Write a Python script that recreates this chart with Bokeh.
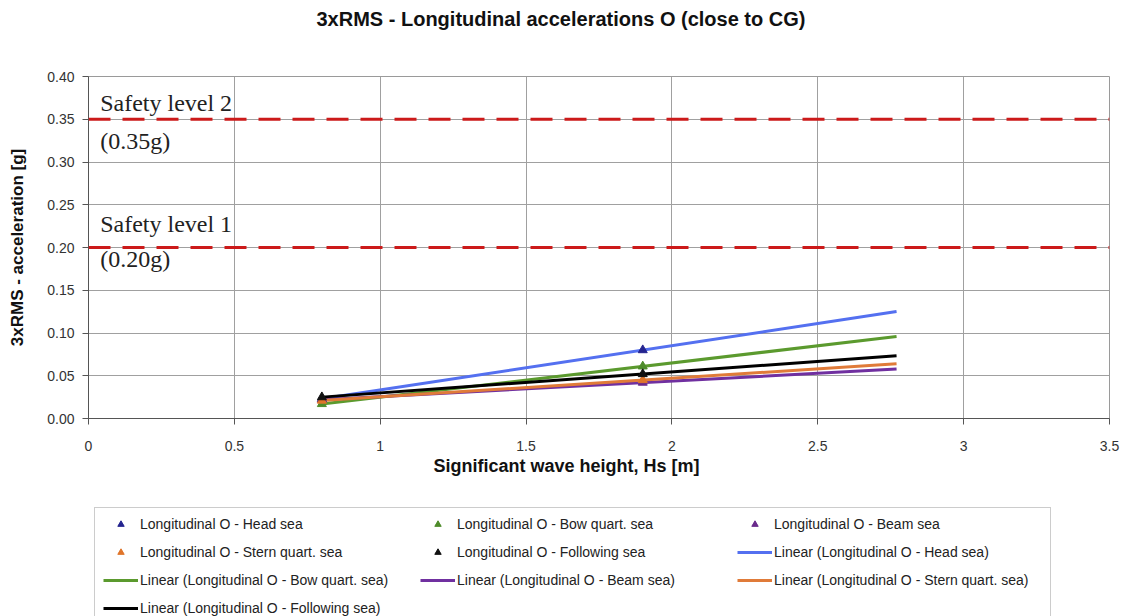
import numpy as np
from bokeh.plotting import figure
from bokeh.layouts import column
from bokeh.models import Range1d, Span, Label, Legend, LegendItem, FixedTicker, Title
from bokeh.embed import file_html
from bokeh.resources import INLINE

# ---- data ----
hs = [0.8, 1.9]
head_sea = [0.023, 0.080]
bow_quart_sea = [0.017, 0.061]
beam_sea = [0.022, 0.042]
stern_quart_sea = [0.021, 0.045]
following_sea = [0.025, 0.052]
trend_end_hs = 2.77

series_names = ["Head sea", "Bow quart. sea", "Beam sea", "Stern quart. sea", "Following sea"]
series_values = [head_sea, bow_quart_sea, beam_sea, stern_quart_sea, following_sea]
marker_colors = ["#24248f", "#4e8c2a", "#6a2a8c", "#e0752a", "#111111"]
trend_colors = ["#5470f0", "#5b9a2e", "#7030a0", "#e07b39", "#000000"]

safety_levels = [0.35, 0.20]
safety_names = ["Safety level 2", "Safety level 1"]
name_offsets = [0.0185, 0.028]
value_offsets = [-0.0258, -0.0129]

x_ticks = [0, 0.5, 1, 1.5, 2, 2.5, 3, 3.5]
x_tick_labels = ["0", "0.5", "1", "1.5", "2", "2.5", "3", "3.5"]
y_ticks = [0, 0.05, 0.10, 0.15, 0.20, 0.25, 0.30, 0.35, 0.40]
y_tick_labels = ["0.00", "0.05", "0.10", "0.15", "0.20", "0.25", "0.30", "0.35", "0.40"]

FONT = "Liberation Sans"

p = figure(width=1124, height=500, x_range=Range1d(0, 3.5), y_range=Range1d(0, 0.4),
           output_backend="svg", toolbar_location=None,
           min_border_left=88, min_border_right=15, min_border_top=76, min_border_bottom=82)

# spacer (inner) then the title (outer)
p.add_layout(Title(text=" ", text_font_size="1px", standoff=39), "above")
p.add_layout(Title(text="3xRMS - Longitudinal accelerations O (close to CG)",
                   align="left", offset=228, standoff=10, text_font=FONT,
                   text_font_size="20px", text_font_style="bold", text_color="#111111"),
             "above")

p.outline_line_color = "#9a9a9a"
p.background_fill_color = "white"
p.border_fill_color = "white"

for ax in (p.xaxis[0], p.yaxis[0]):
    ax.major_tick_in = 0
    ax.major_tick_out = 6
    ax.minor_tick_line_color = None
    ax.axis_line_color = "#555555"
    ax.major_tick_line_color = "#555555"
    ax.major_label_text_font = FONT
    ax.major_label_text_font_size = "14px"
    ax.major_label_text_color = "#333333"
    ax.axis_label_text_font = FONT
    ax.axis_label_text_font_style = "bold"
    ax.axis_label_text_color = "#111111"

p.yaxis.axis_label_text_font_size = "17px"
p.xaxis.ticker = FixedTicker(ticks=x_ticks)
p.xaxis.major_label_overrides = {t: l for t, l in zip(x_ticks, x_tick_labels)}
p.yaxis.ticker = FixedTicker(ticks=y_ticks)
p.yaxis.major_label_overrides = {t: l for t, l in zip(y_ticks, y_tick_labels)}
p.xaxis.major_label_standoff = 16
p.yaxis.major_label_standoff = 8
p.yaxis.axis_label = "3xRMS - acceleration [g]"
p.yaxis.axis_label_standoff = 17

# x-axis title placed in the panel below the axis so it can be offset like the reference
p.add_layout(Title(text="Significant wave height, Hs [m]", align="left", offset=345,
                   standoff=0, text_font=FONT, text_font_size="18px",
                   text_font_style="bold", text_color="#111111"), "below")

p.grid.grid_line_color = "#a0a0a0"
p.grid.grid_line_width = 1
p.xgrid.ticker = FixedTicker(ticks=x_ticks)
p.ygrid.ticker = FixedTicker(ticks=y_ticks)

# safety levels
for lvl, name, no, vo in zip(safety_levels, safety_names, name_offsets, value_offsets):
    p.add_layout(Span(location=lvl, dimension="width", line_color="#cc1a1a",
                      line_width=3, line_dash="22 12"))
    p.add_layout(Label(x=0.04, y=lvl + no, text=name, text_font="Liberation Serif",
                       text_font_size="24px", text_color="#222222", text_baseline="alphabetic"))
    p.add_layout(Label(x=0.04, y=lvl + vo, text=f"({lvl:.2f}g)", text_font="Liberation Serif",
                       text_font_size="24px", text_color="#222222", text_baseline="alphabetic"))

for name, vals, tc in zip(series_names, series_values, trend_colors):
    slope, icpt = np.polyfit(hs, vals, 1)
    tx = [hs[0], trend_end_hs]
    ty = [icpt + slope * x for x in tx]
    p.line(tx, ty, line_color=tc, line_width=3)

for name, vals, mc in zip(series_names, series_values, marker_colors):
    p.scatter(hs, vals, marker="triangle", size=9, fill_color=mc, line_color=mc)

# ---- legend strip below the chart (same series, kept out of this strip's view) ----
lf = figure(width=1124, height=116, x_range=Range1d(100, 101), y_range=Range1d(100, 101),
            x_axis_type=None, y_axis_type=None, output_backend="svg", toolbar_location=None,
            min_border=0)
lf.outline_line_color = None
lf.background_fill_color = "white"
lf.border_fill_color = "white"

marker_items = []
line_items = []
for name, vals, mc in zip(series_names, series_values, marker_colors):
    r = lf.scatter(hs, vals, marker="triangle", size=9, fill_color=mc, line_color=mc)
    marker_items.append(LegendItem(label=f"Longitudinal O - {name}", renderers=[r]))
for name, vals, tc in zip(series_names, series_values, trend_colors):
    r = lf.line(hs, vals, line_color=tc, line_width=3)
    line_items.append(LegendItem(label=f"Linear (Longitudinal O - {name})", renderers=[r]))

legend = Legend(items=marker_items + line_items, location=(6, -9),
                orientation="horizontal", ncols=3,
                glyph_width=35, glyph_height=16, label_height=16, label_width=268,
                label_standoff=2, spacing=12, padding=8, margin=0,
                label_text_font=FONT, label_text_font_size="14px", label_text_color="#222222",
                border_line_color="#999999", border_line_width=1,
                background_fill_color="white", background_fill_alpha=1)
lf.add_layout(legend, "center")

layout = column(p, lf, spacing=0)
open("out.html", "w").write(file_html(layout, INLINE))
